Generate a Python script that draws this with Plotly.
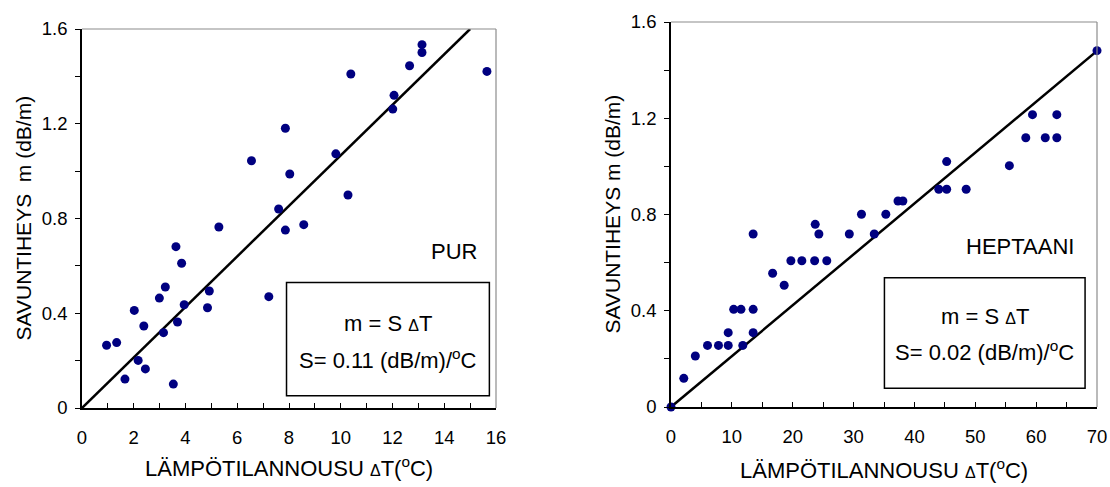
import plotly.graph_objects as go

# ---- data: PUR (left) ----
pur_dt = [0.95, 1.34, 1.66, 2.02, 2.17, 2.39, 2.45, 2.99, 3.15, 3.22, 3.53, 3.63, 3.69, 3.85, 3.95,
          4.85, 4.92, 5.29, 6.55, 7.22, 7.60, 7.86, 7.86, 8.03, 8.57, 9.81, 10.28, 10.39,
          12.01, 12.06, 12.66, 13.14, 13.14, 15.65]
pur_m = [0.265, 0.276, 0.122, 0.412, 0.201, 0.346, 0.165, 0.464, 0.318, 0.511, 0.101, 0.681, 0.363, 0.611, 0.436,
         0.423, 0.494, 0.764, 1.044, 0.470, 0.840, 0.751, 1.181, 0.988, 0.774, 1.073, 0.899, 1.410,
         1.262, 1.320, 1.445, 1.501, 1.534, 1.421]
pur_fit_x = [0, 15]
pur_fit_y = [0, 1.6]

# ---- data: HEPTAANI (right) ----
hep_dt = [0, 2.1, 4.0, 6.0, 7.8, 9.4, 9.4, 10.3, 11.5, 11.8, 13.5, 13.5, 13.5, 16.7, 18.6, 19.7, 21.5,
          23.6, 23.7, 24.3, 25.6, 29.3, 31.3, 33.4, 35.3, 37.3, 38.1, 44.0, 45.3, 45.3, 48.5,
          55.6, 58.3, 59.4, 61.5, 63.4, 63.4, 70.0]
hep_m = [0, 0.119, 0.212, 0.256, 0.256, 0.256, 0.309, 0.406, 0.406, 0.256, 0.406, 0.309, 0.719, 0.556, 0.506,
         0.608, 0.608, 0.608, 0.759, 0.719, 0.608, 0.719, 0.801, 0.719, 0.801, 0.856, 0.856, 0.905, 0.905,
         1.020, 0.905, 1.003, 1.119, 1.215, 1.119, 1.119, 1.215, 1.481]
hep_fit_x = [0, 70]
hep_fit_y = [0, 1.48]

y_ticks = [0, 0.4, 0.8, 1.2, 1.6]
y_ticklabels = ["0", "0.4", "0.8", "1.2", "1.6"]
pur_xticks = [0, 2, 4, 6, 8, 10, 12, 14, 16]
hep_xticks = [0, 10, 20, 30, 40, 50, 60, 70]

FONT = "Arial, Liberation Sans, sans-serif"
DOT = "#000080"
W, H = 1110, 487

fig = go.Figure()
fig.add_trace(go.Scatter(x=pur_fit_x, y=pur_fit_y, mode="lines", line=dict(color="black", width=2.5),
                         xaxis="x", yaxis="y", showlegend=False, hoverinfo="skip"))
fig.add_trace(go.Scatter(x=pur_dt, y=pur_m, mode="markers", marker=dict(color=DOT, size=9),
                         xaxis="x", yaxis="y", showlegend=False, cliponaxis=False))
fig.add_trace(go.Scatter(x=hep_fit_x, y=hep_fit_y, mode="lines", line=dict(color="black", width=2.5),
                         xaxis="x2", yaxis="y2", showlegend=False, hoverinfo="skip"))
fig.add_trace(go.Scatter(x=hep_dt, y=hep_m, mode="markers", marker=dict(color=DOT, size=9),
                         xaxis="x2", yaxis="y2", showlegend=False, cliponaxis=False))

def px_dom_x(p0, p1):
    return [p0 / W, p1 / W]

def px_dom_y(top, bottom):
    return [(H - bottom) / H, (H - top) / H]

def xax(dom, rng, ticks, minor):
    return dict(domain=dom, range=rng, tickvals=ticks, ticks="inside", ticklen=5, tickcolor="black",
                tickwidth=1, showline=True, linecolor="black", linewidth=1.5, showgrid=False, zeroline=False,
                automargin=False,
                minor=dict(dtick=minor, tick0=0, ticks="inside", ticklen=5, tickcolor="black", tickwidth=1,
                           showgrid=False),
                tickfont=dict(family=FONT, size=18.5, color="black"), ticklabelstandoff=12, fixedrange=True)

def yax(dom, anchor):
    return dict(domain=dom, range=[0, 1.6], tickvals=y_ticks, ticktext=y_ticklabels, ticks="outside",
                ticklen=5, tickcolor="black", tickwidth=1, showline=True, linecolor="black", linewidth=1.5,
                showgrid=False, zeroline=False, anchor=anchor, automargin=False,
                minor=dict(dtick=0.2, tick0=0, ticks="outside", ticklen=5, tickcolor="black", tickwidth=1,
                           showgrid=False),
                tickfont=dict(family=FONT, size=18.5, color="black"), ticklabelstandoff=4, fixedrange=True)

fig.update_layout(
    width=W, height=H, margin=dict(l=0, r=0, t=0, b=0, autoexpand=False),
    paper_bgcolor="white", plot_bgcolor="white",
    xaxis=dict(**xax(px_dom_x(82, 496), [0, 16], pur_xticks, 1), anchor="y"),
    yaxis=yax(px_dom_y(29, 408), "x"),
    xaxis2=dict(**xax(px_dom_x(671, 1097), [0, 70], hep_xticks, 5), anchor="y2"),
    yaxis2=yax(px_dom_y(22, 407), "x2"),
    font=dict(family=FONT, color="black"),
)

shapes = []
for xr, yr in (("x domain", "y domain"), ("x2 domain", "y2 domain")):
    shapes.append(dict(type="line", xref=xr, yref=yr, x0=0, x1=1, y0=1, y1=1, line=dict(color="#8c8c8c", width=1.2)))
    shapes.append(dict(type="line", xref=xr, yref=yr, x0=1, x1=1, y0=0, y1=1, line=dict(color="#8c8c8c", width=1.2)))
shapes.append(dict(type="rect", xref="x domain", yref="y domain", x0=0.494, x1=0.984, y0=0.032, y1=0.331,
                   line=dict(color="black", width=1.5), fillcolor="white", layer="above"))
shapes.append(dict(type="rect", xref="x2 domain", yref="y2 domain", x0=0.501, x1=0.972, y0=0.049, y1=0.336,
                   line=dict(color="black", width=1.5), fillcolor="white", layer="above"))
fig.update_layout(shapes=shapes)

tf = dict(family=FONT, size=21, color="black")
xf = dict(family=FONT, size=22, color="black")
bf = dict(family=FONT, size=22, color="black")
delta = "<span style='font-size:16px'>Δ</span>"
ann = [
    dict(xref="x domain", yref="y domain", x=0.959, y=0.412, text="PUR", xanchor="right", yanchor="middle", showarrow=False, font=bf),
    dict(xref="x domain", yref="y domain", x=0.739, y=0.224, text="m = S " + delta + "T", xanchor="center", yanchor="middle", showarrow=False, font=bf),
    dict(xref="x domain", yref="y domain", x=0.739, y=0.129, text="S= 0.11 (dB/m)/<sup>o</sup>C", xanchor="center", yanchor="middle", showarrow=False, font=bf),
    dict(xref="x2 domain", yref="y2 domain", x=0.951, y=0.416, text="HEPTAANI", xanchor="right", yanchor="middle", showarrow=False, font=bf),
    dict(xref="x2 domain", yref="y2 domain", x=0.736, y=0.236, text="m = S " + delta + "T", xanchor="center", yanchor="middle", showarrow=False, font=bf),
    dict(xref="x2 domain", yref="y2 domain", x=0.736, y=0.146, text="S= 0.02 (dB/m)/<sup>o</sup>C", xanchor="center", yanchor="middle", showarrow=False, font=bf),
    # axis titles
    dict(xref="x domain", yref="paper", x=0.5, y=(H - 467) / H, text="LÄMPÖTILANNOUSU " + delta + "T(<sup>o</sup>C)", xanchor="center", yanchor="middle", showarrow=False, font=xf),
    dict(xref="x2 domain", yref="paper", x=0.5, y=(H - 469) / H, text="LÄMPÖTILANNOUSU " + delta + "T(<sup>o</sup>C)", xanchor="center", yanchor="middle", showarrow=False, font=xf),
    dict(xref="paper", yref="y domain", x=23 / W, y=0.5, text="SAVUNTIHEYS  m (dB/m)", textangle=-90, xanchor="center", yanchor="middle", showarrow=False, font=tf),
    dict(xref="paper", yref="y2 domain", x=612 / W, y=0.5, text="SAVUNTIHEYS m (dB/m)", textangle=-90, xanchor="center", yanchor="middle", showarrow=False, font=tf),
]
fig.update_layout(annotations=ann)

fig.write_html("out.html", config={"displayModeBar": False},
               post_script="document.body.style.margin='0';document.body.style.padding='0';")
